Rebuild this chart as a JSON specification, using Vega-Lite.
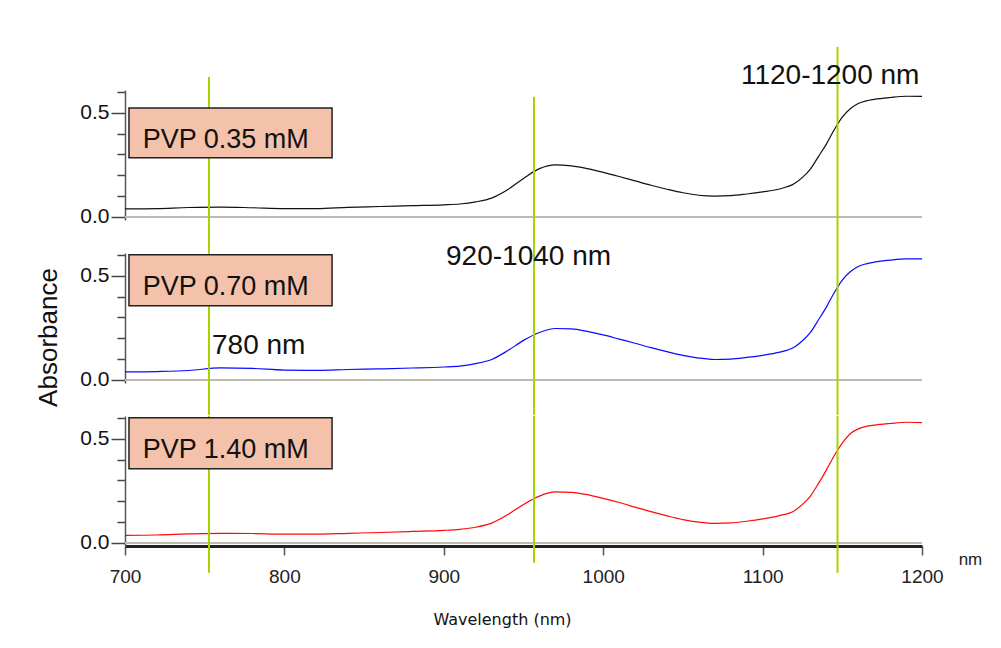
{
  "$schema": "https://vega.github.io/schema/vega-lite/v6.json",
  "padding": {"left": 34, "top": 45, "right": 5, "bottom": 5},
  "background": "white",
  "config": {
    "view": {"stroke": null},
    "font": "Liberation Sans",
    "axisY": {"tickCount": 7, "labelExpr": "abs(datum.value) < 1e-6 || abs(datum.value - 0.5) < 1e-6 ? format(datum.value, '.1f') : ''",
      "tickColor": "#444", "tickWidth": 1.5, "domainColor": "#555", "domainWidth": 1.5, "labelOverlap": false,
      "labelFont": "Liberation Sans", "labelFontSize": 21, "labelColor": "#111", "labelPadding": 2, "grid": false},
    "axisX": {"tickCount": 5, "format": "d", "tickSize": 9, "tickColor": "#555", "tickWidth": 1.5, "domainColor": "#222", "domainWidth": 3,
      "labelFont": "Liberation Sans", "labelFontSize": 19, "labelColor": "#222", "labelPadding": 12, "grid": false, "labelFlush": false, "labelOverlap": false}
  },
  "spacing": 33,
  "bounds": "flush",
  "datasets": {
    "spectra": [
      {"wl":700,"p1":0.038,"p2":0.038,"p3":0.036},
      {"wl":720,"p1":0.040,"p2":0.040,"p3":0.038},
      {"wl":740,"p1":0.045,"p2":0.045,"p3":0.043},
      {"wl":760,"p1":0.047,"p2":0.058,"p3":0.046},
      {"wl":780,"p1":0.044,"p2":0.055,"p3":0.045},
      {"wl":800,"p1":0.040,"p2":0.047,"p3":0.042},
      {"wl":820,"p1":0.040,"p2":0.046,"p3":0.042},
      {"wl":840,"p1":0.046,"p2":0.050,"p3":0.046},
      {"wl":860,"p1":0.050,"p2":0.053,"p3":0.050},
      {"wl":880,"p1":0.054,"p2":0.057,"p3":0.055},
      {"wl":900,"p1":0.058,"p2":0.062,"p3":0.060},
      {"wl":910,"p1":0.062,"p2":0.066,"p3":0.065},
      {"wl":920,"p1":0.072,"p2":0.078,"p3":0.075},
      {"wl":930,"p1":0.090,"p2":0.098,"p3":0.095},
      {"wl":940,"p1":0.130,"p2":0.140,"p3":0.135},
      {"wl":950,"p1":0.185,"p2":0.190,"p3":0.185},
      {"wl":960,"p1":0.232,"p2":0.228,"p3":0.225},
      {"wl":970,"p1":0.250,"p2":0.247,"p3":0.245},
      {"wl":980,"p1":0.245,"p2":0.245,"p3":0.243},
      {"wl":990,"p1":0.232,"p2":0.233,"p3":0.232},
      {"wl":1000,"p1":0.214,"p2":0.216,"p3":0.214},
      {"wl":1010,"p1":0.194,"p2":0.196,"p3":0.194},
      {"wl":1020,"p1":0.173,"p2":0.176,"p3":0.172},
      {"wl":1030,"p1":0.152,"p2":0.155,"p3":0.150},
      {"wl":1040,"p1":0.133,"p2":0.136,"p3":0.130},
      {"wl":1050,"p1":0.116,"p2":0.118,"p3":0.112},
      {"wl":1060,"p1":0.104,"p2":0.105,"p3":0.100},
      {"wl":1070,"p1":0.100,"p2":0.098,"p3":0.094},
      {"wl":1080,"p1":0.102,"p2":0.100,"p3":0.096},
      {"wl":1090,"p1":0.110,"p2":0.108,"p3":0.104},
      {"wl":1100,"p1":0.120,"p2":0.118,"p3":0.115},
      {"wl":1110,"p1":0.133,"p2":0.132,"p3":0.130},
      {"wl":1120,"p1":0.160,"p2":0.158,"p3":0.155},
      {"wl":1125,"p1":0.190,"p2":0.188,"p3":0.185},
      {"wl":1130,"p1":0.230,"p2":0.228,"p3":0.225},
      {"wl":1135,"p1":0.290,"p2":0.288,"p3":0.285},
      {"wl":1140,"p1":0.350,"p2":0.350,"p3":0.350},
      {"wl":1145,"p1":0.420,"p2":0.420,"p3":0.420},
      {"wl":1150,"p1":0.480,"p2":0.480,"p3":0.480},
      {"wl":1155,"p1":0.520,"p2":0.520,"p3":0.525},
      {"wl":1160,"p1":0.545,"p2":0.545,"p3":0.548},
      {"wl":1165,"p1":0.558,"p2":0.558,"p3":0.560},
      {"wl":1170,"p1":0.565,"p2":0.566,"p3":0.566},
      {"wl":1180,"p1":0.574,"p2":0.576,"p3":0.574},
      {"wl":1190,"p1":0.580,"p2":0.582,"p3":0.580},
      {"wl":1200,"p1":0.579,"p2":0.582,"p3":0.578}
    ],
    "guides": [
      {"panel":1,"wl":752.7,"lo":-0.173,"hi":0.673},
      {"panel":1,"wl":956.6,"lo":-0.173,"hi":0.577},
      {"panel":1,"wl":1147,"lo":-0.173,"hi":0.817},
      {"panel":2,"wl":752.7,"lo":-0.168,"hi":0.611},
      {"panel":2,"wl":956.6,"lo":-0.168,"hi":0.611},
      {"panel":2,"wl":1147,"lo":-0.168,"hi":0.611},
      {"panel":3,"wl":752.7,"lo":-0.144,"hi":0.611},
      {"panel":3,"wl":956.6,"lo":-0.096,"hi":0.611},
      {"panel":3,"wl":1147,"lo":-0.144,"hi":0.611}
    ],
    "boxes": [
      {"panel":1,"x1":702.5,"x2":829.9,"y1":0.284,"y2":0.524,"tx":711.1,"ty":0.333,"label":"PVP 0.35 mM"},
      {"panel":2,"x1":702.5,"x2":829.9,"y1":0.356,"y2":0.601,"tx":711.1,"ty":0.407,"label":"PVP 0.70 mM"},
      {"panel":3,"x1":702.5,"x2":829.9,"y1":0.356,"y2":0.601,"tx":711.1,"ty":0.409,"label":"PVP 1.40 mM"}
    ],
    "notes": [
      {"panel":1,"x":1086.4,"y":0.639,"label":"1120-1200 nm"},
      {"panel":2,"x":901.4,"y":0.553,"label":"920-1040 nm"},
      {"panel":2,"x":754.6,"y":0.125,"label":"780 nm"}
    ],
    "zero": [{"from":700,"to":1200,"level":0}],
    "unit": [{"x":1223,"y":-0.106,"label":"nm"}]
  },
  "vconcat": [
    {
      "width": 797, "height": 130,
      "layer": [
        {
          "data": {"name": "zero"},
          "mark": {"type": "rule", "color": "#bdb9ae", "strokeWidth": 2},
          "encoding": {
            "x": {"field": "from", "type": "quantitative", "scale": {"domain": [700, 1200], "nice": false, "zero": false}, "axis": null},
            "x2": {"field": "to"},
            "y": {"field": "level", "type": "quantitative", "scale": {"domain": [-0.015, 0.61], "nice": false, "zero": false},
              "axis": {"title": null, "tickSize": {"condition": {"test": "abs(datum.value) < 1e-6 || abs(datum.value - 0.5) < 1e-6", "value": 14}, "value": 8}}}
          }
        },
        {
          "data": {"name": "spectra"},
          "mark": {"type": "line", "color": "#111111", "strokeWidth": 1.2, "interpolate": "monotone"},
          "encoding": {"x": {"field": "wl", "type": "quantitative"}, "y": {"field": "p1", "type": "quantitative"}}
        },
        {
          "data": {"name": "guides"},
          "transform": [{"filter": "datum.panel == 1"}],
          "mark": {"type": "rule", "color": "#a6d400", "strokeWidth": 2},
          "encoding": {"x": {"field": "wl", "type": "quantitative"}, "y": {"field": "lo", "type": "quantitative"}, "y2": {"field": "hi"}}
        },
        {
          "data": {"name": "boxes"},
          "transform": [{"filter": "datum.panel == 1"}],
          "mark": {"type": "rect", "fill": "#f4c2aa", "stroke": "#222", "strokeWidth": 1.5},
          "encoding": {"x": {"field": "x1", "type": "quantitative"}, "x2": {"field": "x2"}, "y": {"field": "y1", "type": "quantitative"}, "y2": {"field": "y2"}}
        },
        {
          "data": {"name": "boxes"},
          "transform": [{"filter": "datum.panel == 1"}],
          "mark": {"type": "text", "align": "left", "baseline": "alphabetic", "fontSize": 27, "color": "#111"},
          "encoding": {"x": {"field": "tx", "type": "quantitative"}, "y": {"field": "ty", "type": "quantitative"}, "text": {"field": "label"}}
        },
        {
          "data": {"name": "notes"},
          "transform": [{"filter": "datum.panel == 1"}],
          "mark": {"type": "text", "align": "left", "baseline": "alphabetic", "fontSize": 28, "color": "#111"},
          "encoding": {"x": {"field": "x", "type": "quantitative"}, "y": {"field": "y", "type": "quantitative"}, "text": {"field": "label"}}
        }
      ]
    },
    {
      "width": 797, "height": 130,
      "layer": [
        {
          "data": {"name": "zero"},
          "mark": {"type": "rule", "color": "#bdb9ae", "strokeWidth": 2},
          "encoding": {
            "x": {"field": "from", "type": "quantitative", "scale": {"domain": [700, 1200], "nice": false, "zero": false}, "axis": null},
            "x2": {"field": "to"},
            "y": {"field": "level", "type": "quantitative", "scale": {"domain": [-0.015, 0.61], "nice": false, "zero": false},
              "axis": {"tickSize": {"condition": {"test": "abs(datum.value) < 1e-6 || abs(datum.value - 0.5) < 1e-6", "value": 14}, "value": 8},
                "title": "Absorbance", "titleFont": "Liberation Sans", "titleFontSize": 26, "titleFontWeight": "normal", "titleColor": "#111",
                "titleX": -77, "titleY": 84, "titleBaseline": "middle", "titleAlign": "center", "titleAngle": -90}}
          }
        },
        {
          "data": {"name": "spectra"},
          "mark": {"type": "line", "color": "#0a0aff", "strokeWidth": 1.2, "interpolate": "monotone"},
          "encoding": {"x": {"field": "wl", "type": "quantitative"}, "y": {"field": "p2", "type": "quantitative"}}
        },
        {
          "data": {"name": "guides"},
          "transform": [{"filter": "datum.panel == 2"}],
          "mark": {"type": "rule", "color": "#a6d400", "strokeWidth": 2},
          "encoding": {"x": {"field": "wl", "type": "quantitative"}, "y": {"field": "lo", "type": "quantitative"}, "y2": {"field": "hi"}}
        },
        {
          "data": {"name": "boxes"},
          "transform": [{"filter": "datum.panel == 2"}],
          "mark": {"type": "rect", "fill": "#f4c2aa", "stroke": "#222", "strokeWidth": 1.5},
          "encoding": {"x": {"field": "x1", "type": "quantitative"}, "x2": {"field": "x2"}, "y": {"field": "y1", "type": "quantitative"}, "y2": {"field": "y2"}}
        },
        {
          "data": {"name": "boxes"},
          "transform": [{"filter": "datum.panel == 2"}],
          "mark": {"type": "text", "align": "left", "baseline": "alphabetic", "fontSize": 27, "color": "#111"},
          "encoding": {"x": {"field": "tx", "type": "quantitative"}, "y": {"field": "ty", "type": "quantitative"}, "text": {"field": "label"}}
        },
        {
          "data": {"name": "notes"},
          "transform": [{"filter": "datum.panel == 2"}],
          "mark": {"type": "text", "align": "left", "baseline": "alphabetic", "fontSize": 28, "color": "#111"},
          "encoding": {"x": {"field": "x", "type": "quantitative"}, "y": {"field": "y", "type": "quantitative"}, "text": {"field": "label"}}
        }
      ]
    },
    {
      "width": 797, "height": 130,
      "layer": [
        {
          "data": {"name": "zero"},
          "mark": {"type": "rule", "color": "#bdb9ae", "strokeWidth": 2},
          "encoding": {
            "x": {"field": "from", "type": "quantitative", "scale": {"domain": [700, 1200], "nice": false, "zero": false},
              "axis": {"title": "Wavelength (nm)", "titleFont": "DejaVu Sans", "titleFontSize": 16, "titleFontWeight": "normal", "titleColor": "#111",
                "titleX": 377, "titlePadding": 25}},
            "x2": {"field": "to"},
            "y": {"field": "level", "type": "quantitative", "scale": {"domain": [-0.015, 0.61], "nice": false, "zero": false},
              "axis": {"title": null, "tickSize": {"condition": {"test": "abs(datum.value) < 1e-6 || abs(datum.value - 0.5) < 1e-6", "value": 14}, "value": 8}}}
          }
        },
        {
          "data": {"name": "spectra"},
          "mark": {"type": "line", "color": "#ff0a0a", "strokeWidth": 1.2, "interpolate": "monotone"},
          "encoding": {"x": {"field": "wl", "type": "quantitative"}, "y": {"field": "p3", "type": "quantitative"}}
        },
        {
          "data": {"name": "guides"},
          "transform": [{"filter": "datum.panel == 3"}],
          "mark": {"type": "rule", "color": "#a6d400", "strokeWidth": 2},
          "encoding": {"x": {"field": "wl", "type": "quantitative"}, "y": {"field": "lo", "type": "quantitative"}, "y2": {"field": "hi"}}
        },
        {
          "data": {"name": "boxes"},
          "transform": [{"filter": "datum.panel == 3"}],
          "mark": {"type": "rect", "fill": "#f4c2aa", "stroke": "#222", "strokeWidth": 1.5},
          "encoding": {"x": {"field": "x1", "type": "quantitative"}, "x2": {"field": "x2"}, "y": {"field": "y1", "type": "quantitative"}, "y2": {"field": "y2"}}
        },
        {
          "data": {"name": "boxes"},
          "transform": [{"filter": "datum.panel == 3"}],
          "mark": {"type": "text", "align": "left", "baseline": "alphabetic", "fontSize": 27, "color": "#111"},
          "encoding": {"x": {"field": "tx", "type": "quantitative"}, "y": {"field": "ty", "type": "quantitative"}, "text": {"field": "label"}}
        },
        {
          "data": {"name": "unit"},
          "mark": {"type": "text", "align": "left", "baseline": "alphabetic", "fontSize": 17, "color": "#222"},
          "encoding": {"x": {"field": "x", "type": "quantitative"}, "y": {"field": "y", "type": "quantitative"}, "text": {"field": "label"}}
        }
      ]
    }
  ]
}
